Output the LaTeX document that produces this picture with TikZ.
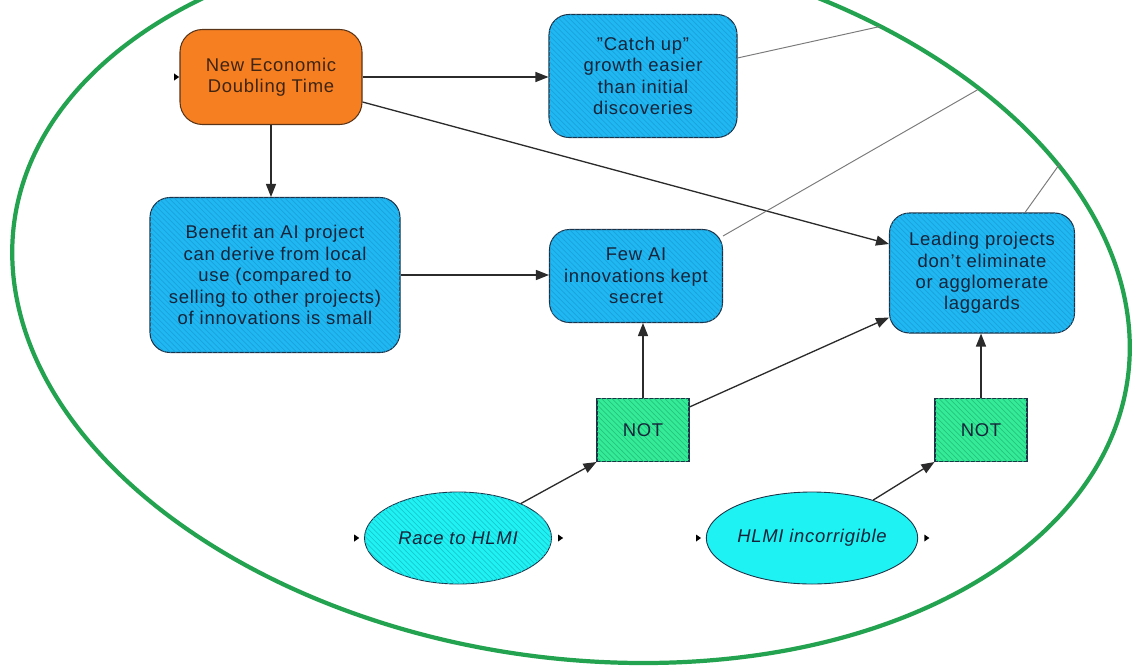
\documentclass[tikz,border=0pt]{standalone}
\usepackage{fontspec}
\setmainfont{Liberation Sans}[LetterSpace=4]
\usepackage{xcolor}
\usepackage{tikz}
\usetikzlibrary{arrows.meta,positioning,calc,patterns,shapes.geometric}
\definecolor{ink}{HTML}{14243A}
\definecolor{edge}{HTML}{1E3247}
\definecolor{sky}{HTML}{20B8F2}
\definecolor{skyhatch}{HTML}{1BA2DC}
\definecolor{orange}{HTML}{F67F22}
\definecolor{orangeedge}{HTML}{5A3418}
\definecolor{mint}{HTML}{34EC98}
\definecolor{minthatch}{HTML}{26C47E}
\definecolor{cyan}{HTML}{1EF2F2}
\definecolor{cyanhatch}{HTML}{1AC8D0}
\definecolor{module}{HTML}{23A24F}
\definecolor{wire}{HTML}{2B2B2B}
\definecolor{outwire}{HTML}{7A7A7A}
\tikzset{
  >={Triangle[length=2.6mm,width=2mm]},
  txt/.style={align=center, text=ink, font=\fontsize{10.5}{12.2}\selectfont, inner sep=0pt},
  varbox/.style={txt, draw=edge, rounded corners=4mm, fill=sky, line width=.6pt,
    postaction={pattern=north west lines, pattern color=skyhatch}},
  decbox/.style={txt, draw=orangeedge, rounded corners=4.5mm, fill=orange, line width=.6pt},
  notbox/.style={txt, draw=edge, fill=mint, line width=.6pt,
    minimum width=1.84cm, minimum height=1.26cm,
    postaction={pattern=north west lines, pattern color=minthatch}},
  chance/.style={txt, ellipse, draw=edge, fill=cyan, line width=.5pt, font=\fontsize{10.5}{12.2}\selectfont\itshape,
    minimum width=3.74cm, minimum height=1.84cm},
  hatched/.style={postaction={pattern=north west lines, pattern color=cyanhatch}},
  flow/.style={->, line width=.75pt, color=wire},
  outflow/.style={line width=.55pt, color=outwire},
  tick/.style={isosceles triangle, isosceles triangle apex angle=70, fill=black,
    inner sep=0pt, minimum height=1mm, minimum width=1.3mm}
}
\begin{document}
\begin{tikzpicture}[x=1cm,y=1cm]
  \useasboundingbox (0,0) rectangle (22.64,-13.34);
  \clip (0,0) rectangle (22.64,-13.34);

  % module outline (a slanted oval)
  \draw[module, line width=2.4pt, cm={11.08,0,-1.45,7.26,(11.42,-6.0)}]
    (0,0) circle (1);

  \node[decbox,minimum width=3.64cm,minimum height=1.9cm,text=orangeedge!70!black] (ecotime) at (5.42,-1.54)
    {New Economic\\Doubling Time};
  \node[varbox,minimum width=3.76cm,minimum height=2.46cm] (catchup) at (12.86,-1.52)
    {\symbol{"22}Catch up\symbol{"22}\\growth easier\\than initial\\discoveries};
  \node[varbox,minimum width=5.0cm,minimum height=3.1cm] (benefit) at (5.5,-5.5)
    {Benefit an AI project\\can derive from local\\use (compared to\\selling to other projects)\\of innovations is small};
  \node[varbox,minimum width=3.46cm,minimum height=1.86cm] (fewai) at (12.72,-5.52)
    {Few AI\\innovations kept\\secret};
  \node[varbox,minimum width=3.7cm,minimum height=2.4cm] (leading) at (19.64,-5.46)
    {Leading projects\\don\symbol{"27}t eliminate\\or agglomerate\\laggards};

  \node[notbox] (not1) at (12.86,-8.6) {NOT};
  \node[notbox] (not2) at (19.62,-8.6) {NOT};

  \node[chance,hatched] (race) at (9.16,-10.76) {Race to HLMI};
  \node[chance] (hlmi) at (16.24,-10.76) {HLMI incorrigible};

  % input / output ticks
  \node[tick] (t1) at ([xshift=-0.07cm]ecotime.west) {};
  \node[tick] (t2) at ([xshift=-0.16cm]race.west) {};
  \node[tick] (t3) at ([xshift=0.16cm]race.east) {};
  \node[tick] (t4) at ([xshift=-0.16cm]hlmi.west) {};
  \node[tick] (t5) at ([xshift=0.16cm]hlmi.east) {};

  \draw[flow] (ecotime.east) -- (ecotime.east -| catchup.west);
  \draw[flow] (ecotime.south) -- (ecotime.south |- benefit.north);
  \draw[flow] ([yshift=-0.5cm]ecotime.east) -- ([yshift=0.58cm]leading.west);
  \draw[flow] (benefit.east) -- (benefit.east -| fewai.west);
  \draw[flow] (not1.north) -- (not1.north |- fewai.south);
  \draw[flow] ([yshift=-0.18cm]not1.north east) -- ([yshift=0.32cm]leading.south west);
  \draw[flow] (not2.north) -- (not2.north |- leading.south);
  \draw[flow] (race) -- (not1.south west);
  \draw[flow] (hlmi) -- (not2.south west);

  % links leaving the module
  \coordinate (exit1) at (17.6,-0.53);
  \coordinate (exit2) at (19.56,-1.79);
  \coordinate (exit3) at (21.2,-3.27);
  \draw[outflow] ([yshift=0.36cm]catchup.east) -- (exit1);
  \draw[outflow] ([yshift=-0.14cm]fewai.north east) -- (exit2);
  \draw[outflow] ([xshift=0.86cm]leading.north) -- (exit3);
\end{tikzpicture}
\end{document}
